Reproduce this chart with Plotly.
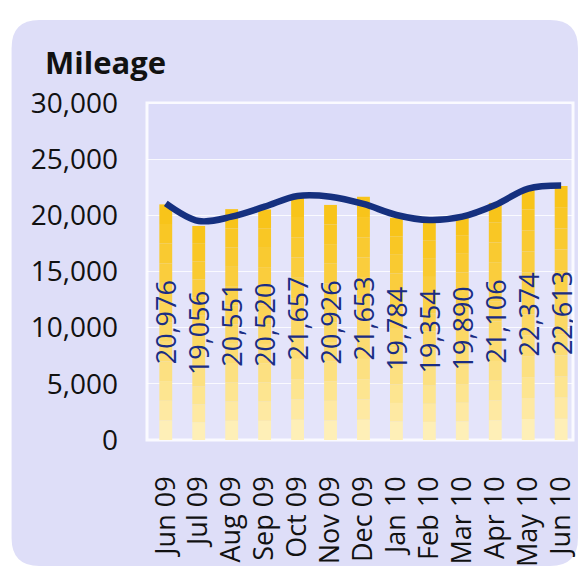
import plotly.graph_objects as go

# ---- data ----
months = ["Jun 09", "Jul 09", "Aug 09", "Sep 09", "Oct 09", "Nov 09", "Dec 09",
          "Jan 10", "Feb 10", "Mar 10", "Apr 10", "May 10", "Jun 10"]
mileage = [20976, 19056, 20551, 20520, 21657, 20926, 21653,
           19784, 19354, 19890, 21106, 22374, 22613]
trend = [21070, 19500, 19880, 20770, 21720, 21660, 21010,
         20030, 19580, 19880, 20920, 22380, 22650]
y_ticks = [0, 5000, 10000, 15000, 20000, 25000, 30000]

# ---- layout geometry (pixels) ----
W, H = 581, 573
L, R, T, B = 147, 3, 103, 133
PW, PH = W - L - R, H - T - B
FONT = "Open Sans"


def px(xp):
    return (xp - L) / PW


def py(yp):
    return (H - B - yp) / PH


fig = go.Figure()

# gradient bars built from stacked segments of each bar
N = 12
top_c = (248, 194, 20)
bot_c = (255, 244, 200)
for k in range(N):
    t = ((k + 0.5) / N) ** 0.75
    c = tuple(round(bot_c[i] + (top_c[i] - bot_c[i]) * t) for i in range(3))
    fig.add_trace(go.Bar(
        x=months, y=[v / N for v in mileage], base=[v * k / N for v in mileage],
        width=0.39, marker=dict(color="rgb(%d,%d,%d)" % c, line=dict(width=0)),
        hoverinfo="skip", showlegend=False))

# labels
fig.add_trace(go.Bar(
    x=months, y=mileage, width=0.39,
    marker=dict(color="rgba(0,0,0,0)", line=dict(width=0)),
    text=[f"{v:,}" for v in mileage], textposition="inside",
    insidetextanchor="middle", textangle=-90, constraintext="none",
    textfont=dict(family=FONT, size=27, color="#1a2d84"),
    showlegend=False))

fig.add_trace(go.Scatter(
    x=months, y=trend, mode="lines",
    line=dict(color="#15307f", width=6.5, shape="spline", smoothing=1.0),
    showlegend=False))

# card background (rounded rectangle)
x0, x1, y0, y1 = 10, 583, 20, 566
r = 28
path = (f"M {px(x0 + r)} {py(y0)} L {px(x1 - r)} {py(y0)} "
        f"Q {px(x1)} {py(y0)} {px(x1)} {py(y0 + r)} "
        f"L {px(x1)} {py(y1 - r)} Q {px(x1)} {py(y1)} {px(x1 - r)} {py(y1)} "
        f"L {px(x0 + r)} {py(y1)} Q {px(x0)} {py(y1)} {px(x0)} {py(y1 - r)} "
        f"L {px(x0)} {py(y0 + r)} Q {px(x0)} {py(y0)} {px(x0 + r)} {py(y0)} Z")
shapes = [
    dict(type="path", path=path, xref="paper", yref="paper",
         fillcolor="#dedef8", line=dict(width=0), layer="below"),
    dict(type="rect", xref="paper", yref="paper", x0=0, x1=1, y0=0, y1=1,
         fillcolor="#e4e4fa", line=dict(color="#fafaff", width=3), layer="below"),
    dict(type="rect", xref="paper", yref="y", x0=0.004, x1=0.996, y0=25000, y1=29900,
         fillcolor="#dcdcf9", line=dict(width=0), layer="below"),
]

fig.update_layout(
    width=W, height=H,
    margin=dict(l=L, r=R, t=T, b=B),
    paper_bgcolor="white", plot_bgcolor="rgba(0,0,0,0)",
    barmode="overlay",
    shapes=shapes,
    title=dict(text="<b>Mileage</b>", xref="container", yref="container",
               x=45 / W, y=1 - 63 / H, xanchor="left", yanchor="middle",
               font=dict(family=FONT, size=31, color="#111")),
    xaxis=dict(type="category", range=[-0.57, 12.36], tickangle=-90,
               tickmode="array", tickvals=months, ticktext=months,
               showgrid=False, zeroline=False, showline=False, ticks="",
               ticklabelstandoff=30,
               tickfont=dict(family=FONT, size=27, color="#111")),
    yaxis=dict(range=[0, 30000], tickvals=y_ticks, tickformat=",d",
               showgrid=True, gridcolor="rgba(255,255,255,0.8)", gridwidth=1,
               zeroline=False, showline=False, ticks="",
               ticklabelstandoff=28,
               tickfont=dict(family=FONT, size=28, color="#111")),
)

fig.write_html("out.html")
